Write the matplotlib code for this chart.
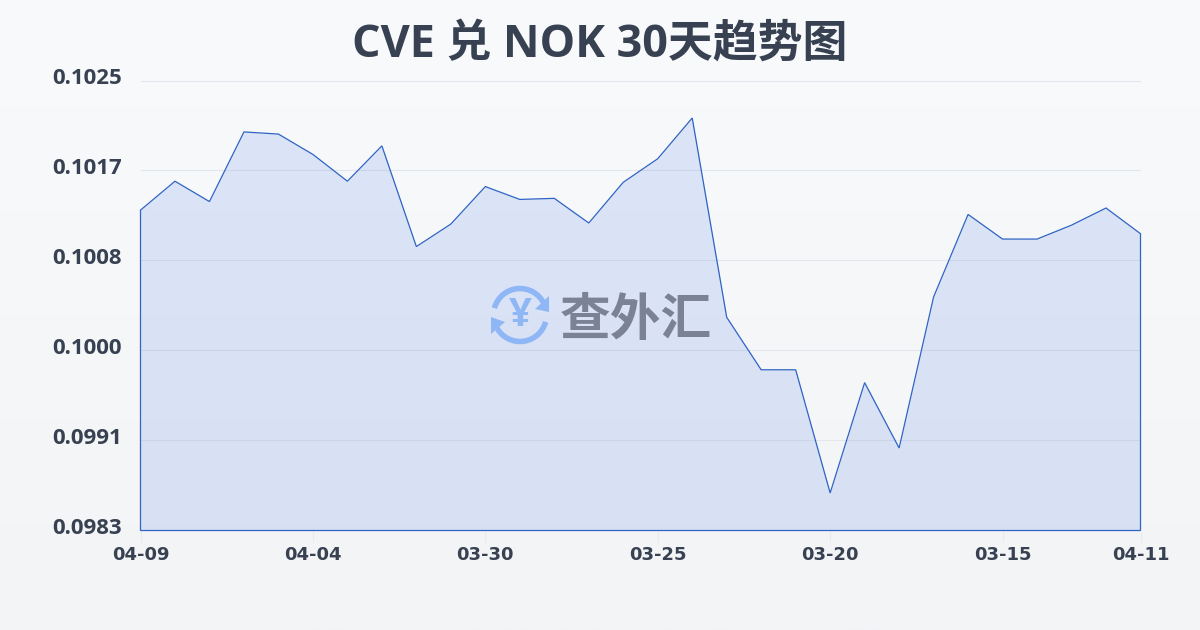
import numpy as np
import matplotlib
matplotlib.use('Agg')
import matplotlib.pyplot as plt
from matplotlib.patches import Arc, Polygon
from matplotlib.transforms import ScaledTranslation

plt.rcParams['font.family'] = ['Open Sans', 'Noto Sans CJK SC', 'DejaVu Sans']

# valores
fechas = ['04-09', '04-04', '03-30', '03-25', '03-20', '03-15', '04-11']
pos_fechas = [0, 5, 10, 15, 20, 25, 29]
ticks_y = [0.0983, 0.09914, 0.09998, 0.10082, 0.10166, 0.1025]
etiquetas_y = ['0.0983', '0.0991', '0.1000', '0.1008', '0.1017', '0.1025']
tasa = [0.10129, 0.10156, 0.10137, 0.10202, 0.10200, 0.10181, 0.10156, 0.10189,
        0.10095, 0.10116, 0.10151, 0.10139, 0.10140, 0.10117, 0.10155, 0.10177,
        0.10215, 0.10029, 0.09980, 0.09980, 0.09865, 0.09968, 0.09907, 0.10048,
        0.10125, 0.10102, 0.10102, 0.10115, 0.10131, 0.10107]

color_texto = '#374151'
color_linea = '#2f63c4'

fig = plt.figure(figsize=(12, 6.3), dpi=100)

# fondo con degradado
fondo = fig.add_axes([0, 0, 1, 1], zorder=0)
grad = np.linspace(0, 1, 256).reshape(-1, 1)
c1 = np.array([0xf8, 0xfa, 0xfc]) / 255
c2 = np.array([0xf2, 0xf4, 0xf6]) / 255
fondo.imshow(c1 + (c2 - c1) * grad[:, :, None], aspect='auto', extent=[0, 1, 0, 1])
fondo.axis('off')

ax = fig.add_axes([140.5 / 1200, 1 - 530.5 / 630, 1000 / 1200, 450 / 630], zorder=1)
ax.patch.set_alpha(0)
x = np.arange(len(tasa))
ax.set_xlim(0, len(tasa) - 1)
ax.set_ylim(ticks_y[0], ticks_y[-1])

ax.grid(True, axis='y', color='#e3e6ec', linewidth=0.8, zorder=1)
ax.set_axisbelow(True)
ax.fill_between(x, tasa, ticks_y[0], color='#3f74e0', alpha=0.15, linewidth=0, zorder=2)
puntos = list(zip(x, tasa)) + [(x[-1], ticks_y[0]), (0, ticks_y[0])]
ax.add_patch(Polygon(puntos, closed=True, fill=False, edgecolor=color_linea,
                     linewidth=0.9, clip_on=False, zorder=3))

for lado in ax.spines.values():
    lado.set_visible(False)
ax.set_yticks(ticks_y)
ax.set_yticklabels(etiquetas_y, fontsize=16, fontweight='bold', color=color_texto)
ax.set_xticks(pos_fechas)
ax.set_xticklabels(fechas, fontsize=13, fontweight='bold', color=color_texto,
                   family=['DejaVu Sans'])
ax.tick_params(axis='y', length=0, pad=13.5)
ax.tick_params(axis='x', length=8, width=0.8, color='#e8eaee', pad=3)
for etiqueta in ax.get_yticklabels():
    etiqueta.set_verticalalignment('center')
    etiqueta.set_transform(etiqueta.get_transform() + ScaledTranslation(0, 2 / 100, fig.dpi_scale_trans))

fig.text(0.5, 1 - 45 / 630, 'CVE 兑 NOK 30天趋势图', ha='center', va='center',
         fontsize=32.3, fontweight='bold', color=color_texto)

# marca de agua, en pixeles
marca = fig.add_axes([0, 0, 1, 1], zorder=2)
marca.set_xlim(0, 1200)
marca.set_ylim(630, 0)
marca.axis('off')
azul = '#8fb6f5'
cx, cy, r = 520, 315, 26.5
marca.add_patch(Arc((cx, cy), 2 * r, 2 * r, theta1=195, theta2=335, color=azul, lw=4))
marca.add_patch(Arc((cx, cy), 2 * r, 2 * r, theta1=15, theta2=165, color=azul, lw=4))
marca.add_patch(Polygon([(549, 296), (549, 312), (535, 309)], color=azul, lw=0))
marca.add_patch(Polygon([(491, 317), (491, 334), (505, 322)], color=azul, lw=0))
marca.text(cx, cy, '¥', ha='center', va='center', fontsize=29, fontweight='bold',
           color=azul, family=['Open Sans'])
marca.text(636, 320, '查外汇', ha='center', va='center', fontsize=36.5, fontweight='bold',
           color='#7a8294', family=['Noto Sans CJK SC'])

fig.savefig('out.png', dpi=100)
